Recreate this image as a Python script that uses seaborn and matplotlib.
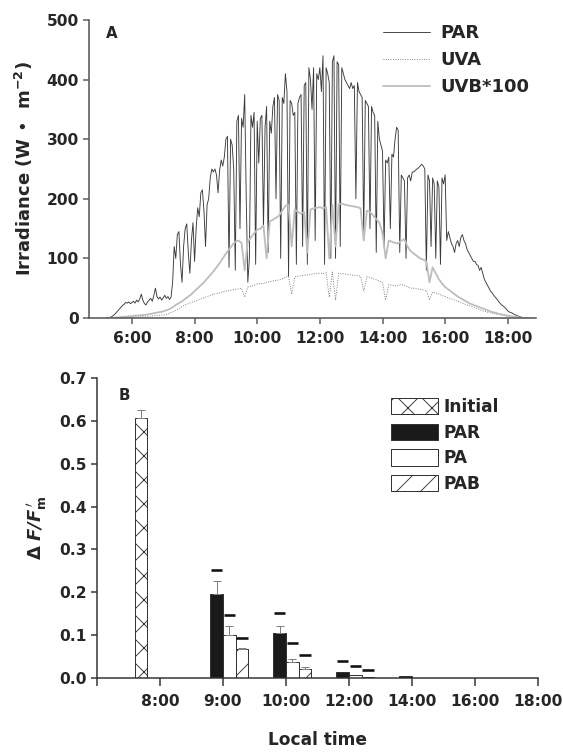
import numpy as np
import pandas as pd
import matplotlib
matplotlib.use("Agg")
import matplotlib.pyplot as plt
import seaborn as sns

# ---------------- Panel A data ----------------
PAR_START, PAR_STEP = 5.2, 0.05   # hours, sampling of the PAR record
par = [
    0, 0, 1, 2, 4, 6, 9, 12, 15, 18, 21, 23, 26, 25, 27, 24,
    26, 28, 25, 30, 27, 32, 40, 30, 24, 22, 27, 30, 33, 28, 38, 50, 36, 32, 35, 30,
    34, 38, 33, 36, 31, 35, 60, 120, 100, 140, 145, 90, 60, 120, 150, 158, 110, 75, 130, 160,
    95, 150, 185, 170, 210, 215, 180, 120, 190, 200, 235, 250, 245, 250, 240, 210, 248, 265, 255, 270,
    300, 305, 85, 300, 290, 250, 80, 330, 340, 150, 335, 320, 375, 200, 60, 100, 340, 320, 345, 90,
    330, 260, 335, 340, 150, 320, 355, 110, 330, 310, 355, 370, 200, 375, 365, 100, 370, 360, 410, 380,
    70, 365, 360, 340, 345, 90, 360, 370, 375, 120, 390, 395, 90, 420, 400, 350, 420, 130, 410, 400,
    420, 380, 440, 90, 420, 410, 395, 100, 430, 440, 100, 430, 425, 120, 420, 410, 400, 395, 390, 385,
    395, 385, 390, 200, 395, 380, 375, 370, 140, 365, 360, 355, 150, 355, 345, 340, 110, 330, 300, 290,
    280, 120, 265, 260, 270, 150, 275, 270, 300, 320, 315, 110, 240, 235, 230, 100, 235, 240, 230, 245,
    245, 248, 250, 252, 255, 258, 255, 250, 80, 240, 230, 120, 235, 225, 100, 230, 220, 90, 235, 225,
    240, 130, 145, 135, 125, 120, 110, 125, 130, 120, 135, 140, 130, 125, 115, 110, 105, 100, 95, 95,
    90, 88, 80, 85, 75, 65, 60, 55, 50, 45, 42, 38, 35, 32, 28, 25, 22, 20, 18, 15,
    12, 10, 9, 8, 6, 5, 4, 3, 2, 1, 0, 0, 0, 0,
]
UV_START, UV_STEP = 5.2, 0.1
uvb100 = [
    0, 0, 0, 1, 1, 2, 2, 3,
    3, 4, 4, 5, 5, 6, 7, 8, 9, 10,
    11, 13, 15, 18, 22, 25, 28, 32, 36, 40,
    45, 50, 55, 60, 66, 72, 78, 85, 92, 100,
    108, 115, 122, 128, 130, 126, 80, 128, 135, 142,
    148, 150, 155, 100, 162, 165, 168, 172, 180, 188,
    190, 120, 182, 178, 175, 178, 110, 182, 184, 185,
    186, 184, 186, 100, 190, 120, 191, 192, 190, 189,
    188, 187, 186, 184, 130, 180, 178, 172, 166, 160,
    142, 100, 130, 128, 126, 125, 130, 132, 120, 112,
    108, 104, 100, 98, 95, 60, 85, 75, 65, 58,
    52, 48, 44, 40, 36, 33, 30, 27, 24, 22,
    20, 18, 16, 14, 12, 10, 9, 7, 6, 5,
    4, 3, 2, 1, 1, 0, 0, 0,
]
uva = [
    0, 0, 0, 0, 1, 1, 1, 1,
    1, 2, 2, 2, 3, 3, 3, 4, 4, 5,
    5, 6, 8, 10, 13, 16, 19, 22, 24, 26,
    28, 30, 32, 34, 36, 38, 40, 41, 42, 44,
    45, 46, 47, 48, 49, 50, 35, 52, 53, 55,
    57, 58, 58, 60, 61, 62, 63, 64, 66, 68,
    70, 40, 69, 70, 71, 72, 72, 73, 74, 75,
    75, 74, 76, 35, 77, 30, 75, 74, 74, 73,
    72, 72, 71, 70, 45, 69, 68, 66, 64, 62,
    60, 30, 56, 55, 54, 55, 56, 55, 52, 50,
    50, 49, 48, 47, 46, 30, 44, 42, 40, 38,
    36, 34, 32, 30, 28, 26, 24, 22, 20, 18,
    16, 14, 12, 11, 9, 8, 7, 6, 5, 4,
    3, 2, 2, 1, 1, 0, 0, 0,
]
a_ticks = [6, 8, 10, 12, 14, 16, 18]
a_ticklabels = ["6:00", "8:00", "10:00", "12:00", "14:00", "16:00", "18:00"]

# ---------------- Panel B data ----------------
b_order = ["", "8:00", "9:00", "10:00", "12:00", "14:00", "16:00", "18:00"]
treatments = ["Initial", "PAR", "PA", "PAB"]
initial_time = ["8:00"]
initial_val = [0.607]
initial_err = [0.018]
treat_times = ["9:00", "10:00", "12:00", "14:00", "16:00", "18:00"]
par_val = [0.197, 0.105, 0.015, 0.004, 0.0, 0.0]
par_err = [0.030, 0.017, 0.0, 0.0, 0.0, 0.0]
pa_val = [0.100, 0.038, 0.007, 0.001, 0.0, 0.0]
pa_err = [0.022, 0.007, 0.0, 0.0, 0.0, 0.0]
pab_val = [0.068, 0.021, 0.002, 0.0, 0.0, 0.0]
pab_err = [0.002, 0.005, 0.0, 0.0, 0.0, 0.0]
dash_times = ["9:00", "10:00", "12:00"]
par_dash = [0.253, 0.152, 0.039]
pa_dash = [0.147, 0.082, 0.028]
pab_dash = [0.093, 0.053, 0.019]

# ---------------- style ----------------
sns.set_style("ticks")
plt.rcParams["font.family"] = ["DejaVu Sans"]
plt.rcParams["font.weight"] = "bold"
plt.rcParams["hatch.linewidth"] = 0.9
plt.rcParams["mathtext.fontset"] = "dejavusans"

W, H = 563, 752
DPI = 72
fig = plt.figure(figsize=(W / DPI, H / DPI), dpi=DPI)

def fx(px):
    return px / W

def fy(py):
    return 1 - py / H

# ---------- Panel A ----------
axA = fig.add_axes([fx(89), fy(318), fx(536 - 89), fy(20) - fy(318)])
t_par = PAR_START + PAR_STEP * np.arange(len(par))
t_uv = UV_START + UV_STEP * np.arange(len(uvb100))
dfA_par = pd.DataFrame({"t": t_par, "v": par})
dfA_uvb = pd.DataFrame({"t": t_uv, "v": uvb100})
dfA_uva = pd.DataFrame({"t": t_uv, "v": uva})

sns.lineplot(data=dfA_par, x="t", y="v", ax=axA, color="#3a3a3a", lw=0.9,
             estimator=None, sort=False, label="PAR")
sns.lineplot(data=dfA_uva, x="t", y="v", ax=axA, color="#6e6e6e", lw=0.9,
             linestyle=":", estimator=None, sort=False, label="UVA")
sns.lineplot(data=dfA_uvb, x="t", y="v", ax=axA, color="#bdbdbd", lw=1.8,
             estimator=None, sort=False, label="UVB*100")

axA.set_xlim(4.63, 18.9)
axA.set_ylim(0, 500)
axA.set_xticks(a_ticks)
axA.set_xticklabels(a_ticklabels)
axA.set_yticks([0, 100, 200, 300, 400, 500])
axA.set_xlabel("")
axA.set_ylabel("Irradiance (W •  m$^{\\mathbf{-2}}$)", fontsize=18, fontweight="bold",
               labelpad=12)
sns.despine(ax=axA)
for s in ["left", "bottom"]:
    axA.spines[s].set_color("#5a5a5a")
    axA.spines[s].set_linewidth(1.6)
axA.tick_params(axis="both", direction="out", length=6, width=1.5, color="#5a5a5a",
                labelsize=15.5)
axA.tick_params(axis="x", pad=7)
axA.tick_params(axis="y", pad=4)
for lab in axA.get_xticklabels() + axA.get_yticklabels():
    lab.set_fontweight("bold")
axA.text(0.038, 0.955, "A", transform=axA.transAxes, fontsize=15, fontweight="bold",
         ha="left", va="center")
legA = axA.legend(loc="upper left", bbox_to_anchor=(fx(383), fy(24)),
                  bbox_transform=fig.transFigure, frameon=False,
                  prop={"weight": "bold", "size": 18}, handlelength=2.6,
                  handletextpad=0.6, labelspacing=0.5, borderpad=0, borderaxespad=0)

# ---------- Panel B ----------
axB = fig.add_axes([fx(97), fy(678), fx(538 - 97), fy(378) - fy(678)])
rows = []
for t, v in zip(initial_time, initial_val):
    rows.append({"time": t, "treatment": "Initial", "value": v})
for t, a, b, c in zip(treat_times, par_val, pa_val, pab_val):
    rows.append({"time": t, "treatment": "PAR", "value": a})
    rows.append({"time": t, "treatment": "PA", "value": b})
    rows.append({"time": t, "treatment": "PAB", "value": c})
dfB = pd.DataFrame(rows)

palette = {"Initial": "white", "PAR": "#1a1a1a", "PA": "white", "PAB": "white"}
sns.barplot(data=dfB, x="time", y="value", hue="treatment", order=b_order,
            hue_order=treatments, palette=palette, errorbar=None, ax=axB,
            edgecolor="#333333", linewidth=1.0, legend=False, saturation=1)

bar_containers = list(axB.containers)
hatches = {"Initial": "x", "PAR": "", "PA": "", "PAB": "/"}
errs = {"Initial": dict(zip(initial_time, initial_err)),
        "PAR": dict(zip(treat_times, par_err)),
        "PA": dict(zip(treat_times, pa_err)),
        "PAB": dict(zip(treat_times, pab_err))}
dashes = {"PAR": dict(zip(dash_times, par_dash)),
          "PA": dict(zip(dash_times, pa_dash)),
          "PAB": dict(zip(dash_times, pab_dash))}
for name, cont in zip(treatments, bar_containers):
    for bar in cont.patches:
        bar.set_hatch(hatches[name])
        bar.set_edgecolor("#333333")
        cx = bar.get_x() + bar.get_width() / 2
        cat = b_order[int(round(cx))]
        h = bar.get_height()
        e = errs[name].get(cat, 0.0)
        if e > 0:
            axB.errorbar([cx], [h], yerr=[[0], [e]], fmt="none", ecolor="#808080",
                         elinewidth=1.0, capsize=4, capthick=1.0)
        if name in dashes and cat in dashes[name]:
            yv = dashes[name][cat]
            axB.hlines(yv, bar.get_x() + 0.01, bar.get_x() + bar.get_width() - 0.01,
                       color="#111111", lw=2.6)

axB.set_xlim(0, 7)
axB.set_ylim(0, 0.7)
axB.set_yticks([0.0, 0.1, 0.2, 0.3, 0.4, 0.5, 0.6, 0.7])
axB.set_yticklabels(["0.0", "0.1", "0.2", "0.3", "0.4", "0.5", "0.6", "0.7"])
axB.set_xticks(range(len(b_order)))
axB.set_xticklabels(b_order)
axB.set_xlabel("Local time", fontsize=17, fontweight="bold", labelpad=22)
axB.set_ylabel("$\\Delta$ $\\mathbfit{F/F}_{\\mathbf{m}}^{\\,\\mathbf{\\prime}}$",
               fontsize=18, labelpad=10)
sns.despine(ax=axB)
for s in ["left", "bottom"]:
    axB.spines[s].set_color("#333333")
    axB.spines[s].set_linewidth(1.5)
axB.tick_params(axis="x", direction="out", length=8, width=1.5, color="#333333",
                labelsize=15.5, pad=8)
axB.tick_params(axis="y", direction="out", length=6, width=1.5, color="#333333",
                labelsize=15.5, pad=4)
for lab in axB.get_xticklabels() + axB.get_yticklabels():
    lab.set_fontweight("bold")
axB.text(0.048, 0.943, "B", transform=axB.transAxes, fontsize=15, fontweight="bold",
         ha="left", va="center")
axB.legend(bar_containers, treatments, loc="upper left",
           bbox_to_anchor=(fx(391), fy(398)), bbox_transform=fig.transFigure,
           frameon=False, prop={"weight": "bold", "size": 17}, handlelength=2.75,
           handleheight=1.1, handletextpad=0.35, labelspacing=0.45, borderpad=0,
           borderaxespad=0)

fig.savefig("out.png", dpi=DPI)
